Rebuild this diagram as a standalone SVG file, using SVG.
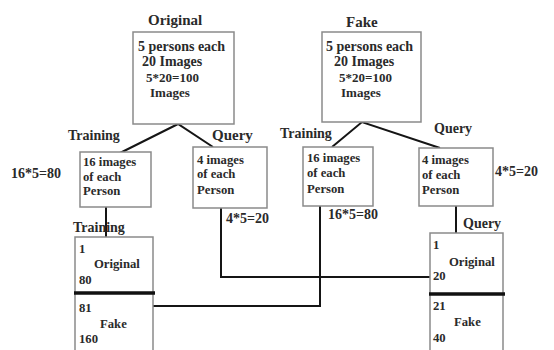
<svg xmlns="http://www.w3.org/2000/svg" width="554" height="350" viewBox="0 0 554 350">
  <style>
    text { font-family: "Liberation Serif", "Times New Roman", serif; font-weight: bold; fill: #2a2a2a; }
    .h { font-size: 15px; }
    .l { font-size: 14px; }
    .m { font-size: 13px; }
    .s { font-size: 12.7px; }
    .box { fill: #ffffff; stroke: #8a8a8a; stroke-width: 1.5; }
    .wire { fill: none; stroke: #151515; stroke-width: 2; }
    .sep { stroke: #111111; stroke-width: 3.5; }
  </style>
  <rect width="554" height="350" fill="#ffffff"/>

  <!-- connectors -->
  <g id="connectors">
    <polyline class="wire" points="120,153 178,124 213,147"/>
    <polyline class="wire" points="332,147 362,122 440,148"/>
    <line class="wire" x1="106" y1="207" x2="106" y2="237"/>
    <line class="wire" x1="456" y1="206" x2="456" y2="233"/>
    <polyline class="wire" points="221,208 221,277 430,277"/>
    <polyline class="wire" points="153,306 320,306 320,206"/>
  </g>

  <!-- dataset: original -->
  <g id="original">
    <text class="h" x="148" y="25">Original</text>
    <rect class="box" x="133" y="32" width="101" height="92"/>
    <text class="l" x="138" y="51">5 persons each</text>
    <text class="l" x="142" y="66">20 Images</text>
    <text class="m" x="146" y="82">5*20=100</text>
    <text class="m" x="150" y="97">Images</text>
  </g>

  <!-- dataset: fake -->
  <g id="fake">
    <text class="h" x="346" y="27">Fake</text>
    <rect class="box" x="322" y="32" width="99" height="90"/>
    <text class="l" x="326" y="51">5 persons each</text>
    <text class="l" x="334" y="66">20 Images</text>
    <text class="m" x="339" y="82">5*20=100</text>
    <text class="m" x="341" y="97">Images</text>
  </g>

  <!-- original split -->
  <g id="orig-train">
    <text class="l" x="68" y="140">Training</text>
    <text class="l" x="11" y="178">16*5=80</text>
    <rect class="box" x="80" y="152" width="71" height="55"/>
    <text class="s" x="83" y="166">16 images</text>
    <text class="s" x="83" y="181">of each</text>
    <text class="s" x="83" y="195">Person</text>
  </g>
  <g id="orig-query">
    <text class="h" x="212" y="140">Query</text>
    <rect class="box" x="193" y="147" width="74" height="61"/>
    <text class="s" x="197" y="164">4 images</text>
    <text class="s" x="197" y="178">of each</text>
    <text class="s" x="197" y="194">Person</text>
    <text class="l" x="226" y="223">4*5=20</text>
  </g>

  <!-- fake split -->
  <g id="fake-train">
    <text class="l" x="280" y="138">Training</text>
    <rect class="box" x="303" y="147" width="70" height="59"/>
    <text class="s" x="307" y="162">16 images</text>
    <text class="s" x="307" y="177">of each</text>
    <text class="s" x="307" y="193">Person</text>
    <text class="l" x="328" y="219">16*5=80</text>
  </g>
  <g id="fake-query">
    <text class="l" x="434" y="133">Query</text>
    <rect class="box" x="419" y="148" width="74" height="58"/>
    <text class="s" x="422" y="164">4 images</text>
    <text class="s" x="422" y="179">of each</text>
    <text class="s" x="422" y="194">Person</text>
    <text class="l" x="495" y="176">4*5=20</text>
  </g>

  <!-- training set -->
  <g id="training-set">
    <rect class="box" x="75" y="237" width="78" height="120"/>
    <line class="sep" x1="74" y1="293" x2="155" y2="293"/>
    <text class="s" x="79" y="253">1</text>
    <text class="s" x="94" y="268">Original</text>
    <text class="s" x="79" y="284">80</text>
    <text class="s" x="79" y="312">81</text>
    <text class="s" x="100" y="328">Fake</text>
    <text class="s" x="79" y="343">160</text>
    <text class="l" x="73" y="232">Training</text>
  </g>

  <!-- query set -->
  <g id="query-set">
    <rect class="box" x="430" y="233" width="73" height="124"/>
    <line class="sep" x1="429" y1="294" x2="505" y2="294"/>
    <text class="s" x="433" y="249">1</text>
    <text class="s" x="449" y="266">Original</text>
    <text class="s" x="433" y="280">20</text>
    <text class="s" x="433" y="310">21</text>
    <text class="s" x="454" y="326">Fake</text>
    <text class="s" x="433" y="342">40</text>
    <text class="l" x="463" y="228">Query</text>
  </g>
</svg>
